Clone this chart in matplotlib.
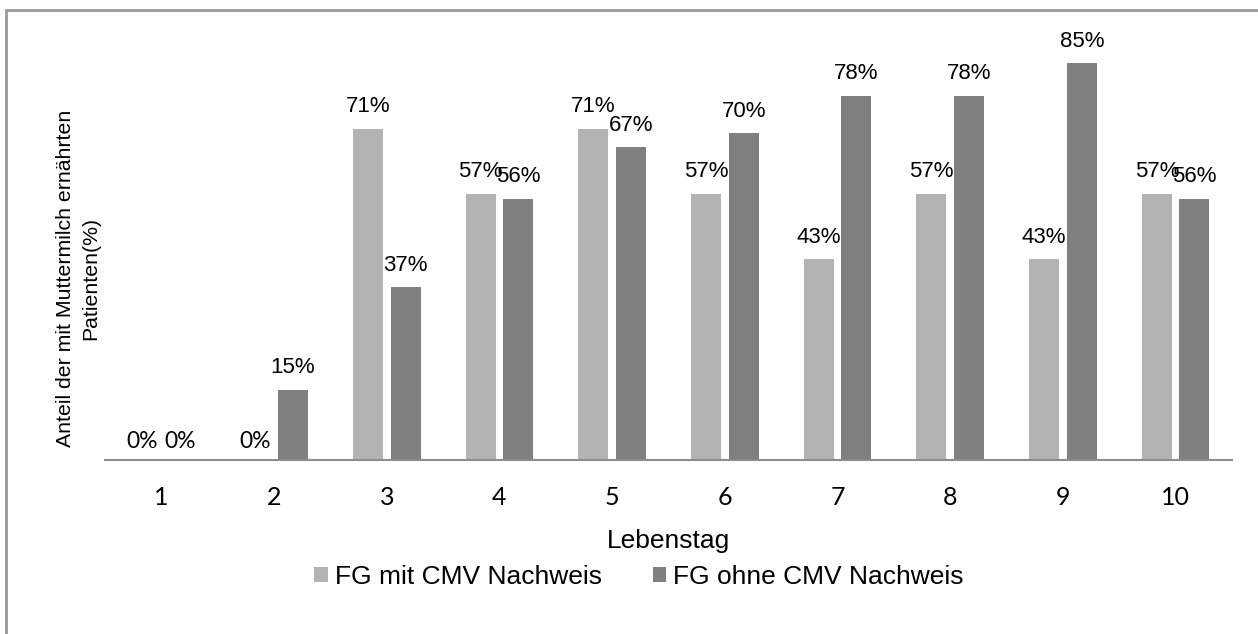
import matplotlib
matplotlib.use("Agg")
import matplotlib.pyplot as plt
import numpy as np
from matplotlib.patches import Rectangle

days = ["1", "2", "3", "4", "5", "6", "7", "8", "9", "10"]
mit_cmv = [0, 0, 71, 57, 71, 57, 43, 57, 43, 57]
ohne_cmv = [0, 15, 37, 56, 67, 70, 78, 78, 85, 56]

LIGHT = "#b3b3b3"
DARK = "#808080"
CALIBRI_LIKE = ["Lato", "DejaVu Sans"]

plt.rcParams["font.family"] = ["Liberation Sans", "DejaVu Sans"]

fig = plt.figure(figsize=(12.58, 6.34), dpi=100)
ax = fig.add_axes([105 / 1258, 174 / 634, 1127 / 1258, 420 / 634])

x = np.arange(len(days))
w = 0.266
off = 0.167
b1 = ax.bar(x - off, mit_cmv, w, color=LIGHT, label="FG mit CMV Nachweis")
b2 = ax.bar(x + off, ohne_cmv, w, color=DARK, label="FG ohne CMV Nachweis")

for bars, vals in ((b1, mit_cmv), (b2, ohne_cmv)):
    for rect, v in zip(bars, vals):
        if v == 0:
            fam, size, dy = CALIBRI_LIKE, 16.5, 6
        else:
            fam, size, dy = ["Liberation Sans", "DejaVu Sans"], 16, 8.5
        ax.annotate(f"{v}%", (rect.get_x() + rect.get_width() / 2, v),
                    xytext=(0, dy), textcoords="offset points",
                    ha="center", va="bottom", fontsize=size, family=fam)

ax.set_xlim(-0.5, len(days) - 0.5)
ax.set_ylim(0, 90)
ax.set_xticks(x)
ax.set_xticklabels(days, family=CALIBRI_LIKE, fontsize=18)
ax.tick_params(axis="x", length=0, pad=19)
ax.set_yticks([])
for s in ("top", "right", "left"):
    ax.spines[s].set_visible(False)
ax.spines["bottom"].set_color("#8c8c8c")
ax.spines["bottom"].set_linewidth(1.5)

ax.set_xlabel("Lebenstag", fontsize=19, labelpad=14)
ax.set_ylabel("Anteil der mit Muttermilch ernährten\nPatienten(%)",
              fontsize=15.3, linespacing=1.4)
ax.yaxis.set_label_coords(-0.004, 0.433)

ax.legend(loc="center", bbox_to_anchor=(0.474, -0.278), ncol=2, frameon=False,
          fontsize=19, handlelength=0.5, handleheight=0.5, handletextpad=0.27,
          columnspacing=1.95)

fig.patches.append(Rectangle((6 / 1258, -0.05), 1.1, 1 - 10 / 634 + 0.05,
                             transform=fig.transFigure, fill=False,
                             edgecolor="#999999", linewidth=2))

fig.savefig("out.png", dpi=100)
